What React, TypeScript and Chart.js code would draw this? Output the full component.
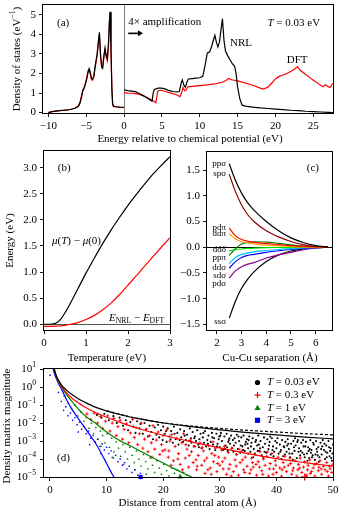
import React, { useEffect, useRef } from 'react';
import { Chart, registerables } from 'chart.js';
Chart.register(...registerables);

const FONT = '"Liberation Serif", "Times New Roman", Times, serif';
const PW = 340, PH = 510;
const RED = '#ff0000', GREEN = '#008000', BLUE = '#0000ff';

// ---------------- Panel (a): density of states ----------------
const dosLeftE = [-10,-9.5,-9,-8.5,-8,-7.5,-7,-6.5,-6.2,-6,-5.8,-5.6,-5.45,-5.3,-5.1,-4.9,-4.75,-4.6,-4.45,-4.3,-4.17,-4.0,-3.85,-3.7,-3.55,-3.4,-3.25,-3.1,-2.95,-2.82,-2.65,-2.51,-2.35,-2.2,-2.05,-1.95,-1.85,-1.72,-1.6,-1.5,-1.4,-1.0,-0.5,0];
const dosLeftNRL = [0,0.05,0.08,0.1,0.12,0.14,0.17,0.22,0.28,0.35,0.5,0.8,1.15,1.25,1.45,1.75,2.05,2.25,2.05,1.75,1.72,1.85,2.3,2.65,3.0,3.6,4.1,3.0,2.35,2.27,2.9,3.3,2.9,2.75,3.6,4.5,5.15,3.2,1.2,0.45,0.33,0.3,0.28,0.27];
const dosLeftDFT = [0,0.05,0.08,0.1,0.12,0.14,0.17,0.22,0.28,0.36,0.55,0.9,1.1,1.2,1.5,1.85,2.15,2.2,1.95,1.7,1.65,1.8,2.2,2.55,2.9,3.5,3.95,2.85,2.3,2.35,2.95,3.2,2.85,2.65,3.4,4.4,5.1,3.1,1.1,0.4,0.31,0.29,0.27,0.26];
const nrlRightE = [0,0.5,1,1.5,2,2.5,3,3.5,3.7,3.85,4.0,4.5,5,5.5,6,6.5,7,7.3,7.55,7.7,7.9,8.1,8.3,8.5,9,9.5,10,10.4,10.7,11.0,11.3,11.5,11.8,12.0,12.2,12.4,12.6,12.8,13.0,13.2,13.4,13.7,14.0,14.3,14.6,14.8,15.0,15.3,15.6,16,17,18,19,20,21,22,23,24,25,26,27,27.6];
const nrlRight = [1.16,1.12,1.1,1.07,0.98,0.88,0.76,0.63,0.58,1.0,1.18,1.25,1.25,1.2,1.12,1.08,1.06,1.08,1.5,1.67,1.4,1.3,1.55,1.72,1.74,1.76,1.78,1.85,2.4,3.05,3.1,3.3,3.7,3.95,3.6,3.35,3.6,4.2,4.8,3.7,3.15,2.9,2.7,2.5,2.38,2.0,1.3,0.7,0.38,0.33,0.28,0.24,0.21,0.18,0.15,0.12,0.1,0.07,0.05,0.03,0.01,0.0];
const dftRightE = [0,0.5,1,1.5,2,2.5,3,3.5,4.0,4.2,4.45,4.7,5,5.5,6,6.5,7,7.4,7.6,7.8,8.0,8.2,8.45,9,10,11,12,13,13.5,13.8,14.2,15,16,17,18,18.4,19,19.5,20,20.5,21,21.5,22,22.5,22.9,23.3,24,24.5,25,25.5,26,26.3,26.6,26.9,27.2,27.6];
const dftRight = [1.02,1.0,0.99,0.97,0.93,0.86,0.78,0.68,0.57,0.51,1.1,1.14,1.13,1.08,1.02,0.96,0.9,0.82,1.0,1.28,1.12,1.15,1.32,1.34,1.38,1.42,1.47,1.55,1.65,1.75,1.68,1.62,1.52,1.4,1.25,1.2,1.3,1.5,1.72,1.85,1.92,2.0,2.1,2.22,2.35,2.15,1.95,1.8,1.65,1.52,1.38,1.32,1.42,1.35,1.28,1.5];
const aTicksX = [-10,-5,0,5,10,15,20,25];
const aTicksY = [0,1,2,3,4,5];

// ---------------- Panel (b): energies vs temperature ----------------
const tempT = [0,0.1,0.2,0.3,0.4,0.5,0.6,0.8,1.0,1.2,1.4,1.6,1.8,2.0,2.2,2.4,2.6,2.8,3.0];
const muShift = [0,0,0.005,0.03,0.1,0.22,0.36,0.67,0.98,1.27,1.55,1.81,2.05,2.28,2.49,2.69,2.88,3.05,3.21];
const eDiff = [-0.04,-0.04,-0.04,-0.035,-0.03,-0.02,-0.005,0.03,0.09,0.17,0.28,0.41,0.57,0.75,0.93,1.12,1.3,1.48,1.66];
const bTicksX = [0,1,2,3];
const bTicksY = [0,0.5,1,1.5,2,2.5,3];

// ---------------- Panel (c): hopping integrals ----------------
const sepR = [2.5,2.75,3.0,3.25,3.5,4.0,4.5,5.0,5.5,6.0,6.5];
const ppSigma = [1.62,1.3,1.05,0.86,0.72,0.5,0.32,0.18,0.09,0.03,0];
const spSigma = [1.42,1.08,0.82,0.63,0.5,0.32,0.2,0.11,0.05,0.015,0];
const pdPi = [0.37,0.22,0.15,0.115,0.095,0.07,0.05,0.03,0.015,0.005,0];
const ddPi = [0.26,0.16,0.11,0.085,0.065,0.04,0.025,0.012,0.005,0.001,0];
const ddDelta = [-0.07,-0.05,-0.035,-0.025,-0.018,-0.01,-0.006,-0.003,-0.001,0,0];
const ppPi = [-0.16,-0.03,0.06,0.095,0.105,0.1,0.075,0.045,0.022,0.007,0];
const ddSigma = [-0.32,-0.2,-0.14,-0.11,-0.09,-0.065,-0.045,-0.03,-0.015,-0.005,0];
const sdSigma = [-0.41,-0.28,-0.2,-0.16,-0.14,-0.1,-0.07,-0.045,-0.025,-0.008,0];
const pdSigma = [-0.6,-0.46,-0.38,-0.33,-0.3,-0.21,-0.15,-0.1,-0.05,-0.015,0];
const ssSigma = [-1.38,-1.05,-0.8,-0.62,-0.48,-0.28,-0.15,-0.075,-0.035,-0.01,0];
const cNames = ['pp\u03C3','sp\u03C3','pd\u03C0','dd\u03C0','dd\u03B4','pp\u03C0','dd\u03C3','sd\u03C3','pd\u03C3','ss\u03C3'];
const cLabelY = [1.62,1.42,0.385,0.255,-0.055,-0.205,-0.39,-0.55,-0.715,-1.45];
const cTicksX = [2,3,4,5,6];
const cTicksY = [-1.5,-1,-0.5,0,0.5,1,1.5];

// ---------------- Panel (d): density matrix decay (log10 values) ----------------
const fitBlackX = [0.5,0.7,1,1.5,2,3,4,5,6,8,10,12,15,20,25,30,35,40,45,50];
const fitBlackL = [1.3,1.0,0.7,0.38,0.12,-0.2,-0.45,-0.65,-0.82,-1.12,-1.33,-1.5,-1.72,-2.0,-2.2,-2.38,-2.53,-2.66,-2.78,-2.88];
const fitBlackDashX = [10,15,20,25,30,35,40,45,50];
const fitBlackDashL = [-1.33,-1.72,-1.99,-2.17,-2.3,-2.41,-2.5,-2.59,-2.66];
const fitRedX = [0.5,0.7,1,1.5,2,3,4,5,6,8,10,12,15,20,25,30,35,40,45,50];
const fitRedL = [1.3,1.0,0.68,0.33,0.05,-0.35,-0.65,-0.88,-1.08,-1.42,-1.68,-1.92,-2.25,-2.68,-3.05,-3.38,-3.7,-3.98,-4.2,-4.4];
const fitGreenX = [0.6,0.8,1,1.5,2,3,4,5,6,8,10,12,15,18,20,22,25,27];
const fitGreenL = [1.3,1.0,0.75,0.3,0.0,-0.45,-0.85,-1.22,-1.55,-2.0,-2.5,-2.92,-3.4,-3.9,-4.22,-4.55,-5.0,-5.3];
const fitBlueX = [0.4,0.55,1,1.5,2,3,4,5,6,7,8,9,10,11,12];
const fitBlueL = [1.3,1.0,0.55,0.2,-0.1,-0.75,-1.3,-1.75,-2.2,-2.65,-3.1,-3.65,-4.25,-4.85,-5.4];

const ptsBlack: number[][] = [
[8.3,-1.55],[9.1,-1.7],[9.6,-1.5],[10.4,-1.85],[11.2,-1.62],[11.8,-2.0],
[12.3,-1.7],[12.9,-2.15],[13.4,-1.85],[13.8,-2.4],[14.2,-1.95],[14.7,-2.2],[15.1,-2.55],[15.4,-1.9],[15.8,-2.3],[16.0,-2.05],
[16.4,-2.6],[16.7,-2.0],[17.0,-2.35],[17.3,-2.75],[17.6,-2.15],[17.9,-2.5],[18.2,-2.9],[18.5,-2.25],[18.8,-2.65],[19.1,-2.1],[19.3,-2.8],[19.6,-2.4],[19.9,-2.95],[20.0,-2.2],
[20.3,-2.6],[20.6,-3.05],[20.8,-2.3],[21.1,-2.75],[21.4,-2.45],[21.7,-3.1],[21.9,-2.2],[22.2,-2.9],[22.5,-2.55],[22.7,-3.2],[23.0,-2.35],[23.2,-2.8],[23.5,-3.05],[23.7,-2.45],[24.0,-2.95],[24.2,-2.65],[24.5,-3.25],[24.7,-2.3],[24.9,-2.85],[25.0,-3.1],
[25.2,-2.5],[25.4,-3.3],[25.6,-2.75],[25.8,-3.0],[26.0,-2.4],[26.2,-3.2],[26.4,-2.9],[26.6,-2.6],[26.8,-3.4],[27.0,-2.8],[27.2,-3.1],[27.4,-2.45],[27.6,-3.3],[27.8,-2.95],[28.0,-2.7],[28.2,-3.45],[28.4,-3.05],[28.6,-2.55],[28.8,-3.2],[29.0,-2.85],[29.2,-3.5],[29.4,-2.6],[29.6,-3.15],[29.8,-2.9],[30.0,-3.35],
[30.2,-2.55],[30.4,-3.0],[30.6,-3.5],[30.8,-2.75],[31.0,-3.25],[31.2,-2.6],[31.4,-3.55],[31.6,-2.95],[31.8,-3.15],[32.0,-2.7],[32.2,-3.4],[32.4,-3.6],[32.6,-2.85],[32.8,-3.1],[33.0,-2.65],[33.2,-3.45],[33.4,-3.0],[33.6,-3.65],[33.8,-2.8],[34.0,-3.3],[34.2,-2.7],[34.4,-3.55],[34.6,-3.05],[34.8,-2.9],[35.0,-3.4],[31.3,-3.35],[32.9,-3.75],[34.5,-3.2],
[35.2,-2.75],[35.4,-3.6],[35.6,-3.1],[35.8,-2.85],[36.0,-3.45],[36.2,-3.7],[36.4,-2.95],[36.6,-3.25],[36.8,-2.7],[37.0,-3.55],[37.2,-3.0],[37.4,-3.8],[37.6,-3.35],[37.8,-2.8],[38.0,-3.15],[38.2,-3.65],[38.4,-2.9],[38.6,-3.45],[38.8,-3.05],[39.0,-3.75],[39.2,-2.85],[39.4,-3.3],[39.6,-3.6],[39.8,-3.0],[40.0,-3.4],[35.9,-3.9],[36.9,-3.2],[37.7,-3.95],[38.9,-2.75],[39.5,-3.85],
[40.2,-2.85],[40.4,-3.7],[40.6,-3.2],[40.8,-3.5],[41.0,-2.95],[41.2,-3.85],[41.4,-3.35],[41.6,-3.05],[41.8,-3.6],[42.0,-2.9],[42.2,-3.45],[42.4,-3.9],[42.6,-3.15],[42.8,-3.7],[43.0,-3.0],[43.2,-3.55],[43.4,-3.25],[43.6,-3.95],[43.8,-2.95],[44.0,-3.4],[44.2,-3.8],[44.4,-3.1],[44.6,-3.65],[44.8,-3.3],[45.0,-3.9],[40.9,-4.0],[41.9,-3.25],[42.9,-4.05],[43.9,-3.6],[44.7,-2.95],[41.5,-3.75],[43.3,-2.85],
[45.2,-3.05],[45.4,-3.7],[45.6,-3.35],[45.8,-3.95],[46.0,-2.95],[46.2,-3.5],[46.4,-3.8],[46.6,-3.2],[46.8,-4.05],[47.0,-3.0],[47.2,-3.6],[47.4,-3.35],[47.6,-3.9],[47.8,-3.1],[48.0,-3.75],[48.2,-2.95],[48.4,-3.5],[48.6,-4.0],[48.8,-3.25],[49.0,-3.65],[49.2,-3.0],[49.4,-3.85],[49.6,-3.4],[49.8,-4.1],[50.0,-3.2],[45.5,-4.1],[46.5,-3.1],[47.5,-4.15],[48.5,-3.15],[49.5,-3.55],[45.9,-3.45],[46.9,-3.75],[47.9,-3.45],[48.9,-3.9],[49.9,-3.7],
[20.5,-2.45],[21.3,-2.9],[22.0,-2.6],[22.9,-2.95],[23.8,-2.7],[24.6,-3.0],[25.5,-2.85],[26.3,-3.35],[27.1,-2.55],[27.9,-3.15],[28.7,-2.8],[29.5,-3.3],[30.1,-2.7],[30.9,-3.45],[31.7,-2.85],[32.5,-3.25],[33.3,-2.75],[34.1,-3.5],[34.9,-3.15],[35.5,-3.3],[36.3,-3.05],[37.1,-3.4],[37.9,-3.6],[38.7,-3.25],[39.3,-3.5],[40.1,-3.1],[40.7,-3.6],[41.3,-3.3],[42.3,-3.7],[43.1,-3.35],[43.7,-3.05],[44.3,-3.55],[45.1,-3.3],[45.7,-3.55],[46.3,-3.9],[47.3,-3.8],[48.1,-3.3],[48.7,-3.6],[49.3,-3.35],[49.7,-3.95],[46.1,-3.65],[47.1,-3.45],[44.9,-3.75],[42.1,-3.15],[36.7,-3.55],[35.1,-2.95],[33.7,-3.25],[32.3,-2.95],[31.5,-3.05],[29.9,-2.75]
];
const ptsRed: number[][] = [
[6.5,-1.5],[7.2,-1.8],[7.8,-1.45],[8.4,-2.0],[8.9,-1.65],[9.3,-2.3],[9.8,-1.9],
[10.2,-1.6],[10.6,-2.45],[11.0,-2.0],[11.3,-1.75],[11.7,-2.7],[12.0,-2.2],[12.4,-1.85],[12.8,-2.9],[13.1,-2.35],[13.5,-2.05],[13.9,-3.1],[14.2,-2.55],[14.6,-1.8],[14.9,-2.8],
[15.2,-2.25],[15.5,-3.2],[15.8,-2.6],[16.1,-2.0],[16.4,-3.4],[16.7,-2.9],[17.0,-2.35],[17.3,-3.6],[17.6,-2.7],[17.9,-3.1],[18.2,-2.15],[18.5,-3.45],[18.8,-2.95],[19.1,-2.5],[19.4,-3.75],[19.7,-3.2],[20.0,-2.7],
[20.3,-3.5],[20.6,-2.4],[20.9,-3.9],[21.2,-3.0],[21.5,-2.65],[21.8,-4.1],[22.1,-3.3],[22.4,-2.85],[22.7,-3.7],[23.0,-4.3],[23.3,-3.1],[23.6,-2.6],[23.9,-3.95],[24.2,-3.45],[24.5,-4.45],[24.8,-2.95],[25.0,-3.6],[21.0,-3.55],[22.6,-4.0],[24.0,-3.2],
[25.3,-4.2],[25.6,-3.3],[25.9,-4.6],[26.2,-3.8],[26.5,-3.1],[26.8,-4.35],[27.1,-3.55],[27.4,-4.8],[27.7,-3.95],[28.0,-3.25],[28.3,-4.5],[28.6,-3.7],[28.9,-4.15],[29.2,-3.4],[29.5,-4.7],[29.8,-3.9],[30.0,-4.35],[25.8,-4.05],[26.9,-3.35],[27.9,-4.6],[28.8,-3.05],[29.6,-4.25],
[30.3,-3.5],[30.6,-4.55],[30.9,-3.95],[31.2,-4.85],[31.5,-3.65],[31.8,-4.3],[32.1,-3.4],[32.4,-4.7],[32.7,-4.05],[33.0,-3.75],[33.3,-4.9],[33.6,-4.2],[33.9,-3.55],[34.2,-4.6],[34.5,-3.9],[34.8,-4.4],[35.0,-3.7],[30.8,-3.3],[32.0,-4.95],[33.4,-3.45],[34.4,-4.75],
[35.3,-4.8],[35.6,-3.95],[35.9,-4.45],[36.2,-3.75],[36.5,-4.9],[36.8,-4.15],[37.1,-3.6],[37.4,-4.65],[37.7,-4.0],[38.0,-4.35],[38.3,-3.85],[38.6,-4.95],[38.9,-4.25],[39.2,-3.7],[39.5,-4.55],[39.8,-4.1],[40.0,-4.75],[35.8,-4.2],[37.0,-4.45],[38.4,-3.6],[39.4,-4.85],
[40.3,-3.9],[40.6,-4.5],[40.9,-4.95],[41.2,-4.2],[41.5,-3.85],[41.8,-4.7],[42.1,-4.35],[42.4,-3.95],[42.7,-4.85],[43.0,-4.5],[43.3,-4.1],[43.6,-4.95],[43.9,-4.3],[44.2,-3.95],[44.5,-4.75],[44.8,-4.45],[45.0,-4.15],[41.0,-4.6],[42.5,-4.25],[43.8,-4.6],
[45.3,-4.9],[45.6,-4.35],[45.9,-4.05],[46.2,-4.7],[46.5,-4.5],[46.8,-4.95],[47.1,-4.25],[47.4,-4.65],[47.7,-4.1],[48.0,-4.85],[48.3,-4.4],[48.6,-4.6],[48.9,-4.2],[49.2,-4.95],[49.5,-4.55],[49.8,-4.75],[50.0,-4.3],[46.0,-4.8],[47.5,-4.45],[49.0,-4.7],
[26.0,-4.4],[27.3,-4.1],[28.5,-4.85],[29.1,-3.8],[30.5,-4.15],[31.6,-4.55],[32.9,-4.4],[34.0,-4.05],[35.5,-4.6],[36.4,-4.3],[37.6,-4.85],[38.8,-4.55],[39.9,-4.35],[41.4,-4.45],[42.9,-4.65],[44.1,-4.5],[45.5,-4.6],[46.7,-4.3],[47.9,-4.55],[49.4,-4.4],[18.0,-3.9],[19.9,-3.55],[21.4,-4.35],[23.4,-4.6],[24.6,-3.8]
];
const ptsGreen: number[][] = [
[2.5,-0.5],[3.2,-0.9],[3.8,-1.2],[4.4,-1.0],[4.9,-1.6],[5.5,-1.4],[6.0,-1.9],[6.4,-1.7],[6.9,-2.3],[7.3,-2.0],[7.7,-2.6],[8.1,-2.25],[8.5,-2.9],[8.9,-2.45],[9.3,-2.7],[9.7,-3.1],[10.1,-2.6],[10.5,-3.35],[10.9,-2.85],[11.3,-3.6],[11.7,-3.05],[12.1,-3.4],[12.5,-3.85],[12.9,-3.2],[13.3,-3.6],[13.7,-4.0],[14.1,-3.35],[14.5,-3.8],[14.9,-4.2],[15.3,-3.55],[15.7,-4.0],[16.1,-4.4],[16.5,-3.75],[16.9,-4.15],[17.3,-4.55],[17.7,-3.95],[18.1,-4.35],[18.5,-4.75],[18.9,-4.1],[19.3,-4.5],[19.7,-4.85],[20.1,-4.3],[20.6,-4.65],[21.0,-4.95],[21.5,-4.5],[22.0,-4.8],[22.5,-4.6],[23.0,-4.95],[23.6,-4.75],[24.2,-4.9],[9.0,-3.3],[11.0,-3.9],[13.0,-4.3],[15.0,-4.6],[17.0,-4.85]
];
const ptsBlue: number[][] = [
[0,0.65],[1.5,-0.3],[2.0,-0.8],[2.4,-1.3],[2.8,-1.1],[3.2,-1.6],[3.6,-1.45],[4.0,-1.85],[4.4,-1.7],[4.8,-2.1],[5.2,-1.95],[5.6,-2.35],[6.0,-2.2],[6.4,-2.6],[6.8,-2.45],[7.2,-2.85],[7.6,-2.7],[8.0,-3.05],[8.4,-2.9],[8.8,-3.3],[9.2,-3.15],[9.6,-3.5],[10.0,-3.35],[10.4,-3.7],[10.8,-3.55],[11.2,-3.95],[11.6,-3.8],[12.0,-4.15],[12.4,-4.0],[12.8,-4.35],[13.2,-4.2],[13.6,-4.55],[14.0,-4.4],[14.5,-4.75],[15.0,-4.6],[15.5,-4.9],[16.0,-4.8],[5.0,-2.5],[7.0,-3.2],[9.0,-3.7]
];
// decay-length markers at the plot edge: [x, log10 y]
const markBlack = [50.8, -3.5];
const markRed = [45, -5];
const markGreen = [23, -5];
const markBlue = [16, -5];
const dTicksX = [0,10,20,30,40,50];
const dTicksExp = [1,0,-1,-2,-3,-4,-5];

// ---------------- helpers ----------------
type Seg = { t: string; it?: boolean; sub?: boolean; sup?: boolean };
const segFont = (s: Seg, size: number) => `${s.it ? 'italic ' : ''}${(s.sub || s.sup) ? size * 0.7 : size}px ${FONT}`;
function richWidth(ctx: CanvasRenderingContext2D, segs: Seg[], size: number) {
  let w = 0;
  for (const s of segs) { ctx.font = segFont(s, size); w += ctx.measureText(s.t).width; }
  return w;
}
function drawRich(ctx: CanvasRenderingContext2D, x: number, y: number, segs: Seg[], size = 11, align: 'left' | 'center' | 'right' = 'left', color = '#000') {
  const w = richWidth(ctx, segs, size);
  let cx = align === 'left' ? x : align === 'center' ? x - w / 2 : x - w;
  ctx.save();
  ctx.fillStyle = color; ctx.textBaseline = 'middle'; ctx.textAlign = 'left';
  for (const s of segs) {
    ctx.font = segFont(s, size);
    const dy = s.sub ? size * 0.3 : s.sup ? -size * 0.38 : 0;
    ctx.fillText(s.t, cx, y + dy);
    cx += ctx.measureText(s.t).width;
  }
  ctx.restore();
}
function drawRotated(ctx: CanvasRenderingContext2D, x: number, y: number, segs: Seg[], size = 11) {
  ctx.save(); ctx.translate(x, y); ctx.rotate(-Math.PI / 2);
  drawRich(ctx, 0, 0, segs, size, 'center');
  ctx.restore();
}
const T = (t: string): Seg[] => [{ t }];
const minus = (v: number, d?: number) => { const s = d === undefined ? String(Math.abs(v)) : Math.abs(v).toFixed(d); return v < 0 ? '\u2212' + s : s; };

function frame(chart: any) {
  const { ctx, chartArea: a } = chart;
  ctx.save(); ctx.strokeStyle = '#000'; ctx.lineWidth = 1;
  ctx.strokeRect(Math.round(a.left) - 0.5, Math.round(a.top) - 0.5, Math.round(a.right - a.left) + 1, Math.round(a.bottom - a.top) + 1);
  ctx.restore();
}
const zeroPad = (s: any) => { s.paddingLeft = 0; s.paddingRight = 0; s.paddingTop = 0; s.paddingBottom = 0; };
const gridOpts = { display: true, drawOnChartArea: false, drawTicks: true, tickLength: 4, color: '#000', lineWidth: 0.9 };
function xAxis(min: number, max: number, ticks: number[], fmt: (v: number) => string) {
  return {
    type: 'linear', position: 'bottom', min, max,
    grid: gridOpts, border: { display: false },
    ticks: { autoSkip: false, maxRotation: 0, minRotation: 0, padding: 3, color: '#000', font: { family: FONT, size: 11 }, callback: (v: any) => fmt(Number(v)) },
    afterBuildTicks: (s: any) => { s.ticks = ticks.map((value) => ({ value })); },
    afterFit: (s: any) => { s.height = 20; zeroPad(s); },
  };
}
function yAxis(min: number, max: number, ticks: number[], fmt: (v: number) => string, width: number, type = 'linear') {
  return {
    type, position: 'left', min, max,
    grid: gridOpts, border: { display: false },
    ticks: { autoSkip: false, padding: 3, color: '#000', font: { family: FONT, size: 11 }, callback: (v: any) => fmt(Number(v)) },
    afterBuildTicks: (s: any) => { s.ticks = ticks.map((value) => ({ value })); },
    afterFit: (s: any) => { s.width = width; zeroPad(s); },
  };
}
function baseOpts(area: { L: number; T: number; R: number; B: number }, xs: any, ys: any) {
  return {
    animation: false, responsive: false, maintainAspectRatio: false, devicePixelRatio: 1, events: [],
    layout: { autoPadding: false, padding: { left: 0, top: area.T, right: PW - area.R, bottom: PH - area.B - 20 } },
    plugins: { legend: { display: false }, tooltip: { enabled: false }, title: { display: false } },
    scales: { x: xs, y: ys },
  };
}
const xy = (xs: number[], ys: number[]) => xs.map((x, i) => ({ x, y: ys[i] }));
const xyLog = (xs: number[], ls: number[]) => xs.map((x, i) => ({ x, y: Math.pow(10, ls[i]) }));
const ptsLog = (p: number[][]) => p.map(([x, l]) => ({ x, y: Math.pow(10, l) }));
function lineDS(data: any[], color: string, extra: any = {}) {
  return { data, borderColor: color, backgroundColor: color, borderWidth: 1.2, pointRadius: 0, fill: false, tension: 0, ...extra };
}
const smooth = { cubicInterpolationMode: 'monotone' };

// ---------------- chart builders ----------------
function makeA(cv: HTMLCanvasElement) {
  const area = { L: 43, T: 5, R: 333, B: 113 };
  const plugin = {
    id: 'annA',
    beforeDatasetsDraw(chart: any) {
      const { ctx, chartArea: a, scales: { x } } = chart;
      const px = Math.round(x.getPixelForValue(0)) + 0.5;
      ctx.save(); ctx.strokeStyle = '#808080'; ctx.lineWidth = 1;
      ctx.beginPath(); ctx.moveTo(px, a.top); ctx.lineTo(px, a.bottom); ctx.stroke(); ctx.restore();
    },
    afterDraw(chart: any) {
      const { ctx, chartArea: a, scales: { x, y } } = chart;
      frame(chart);
      drawRich(ctx, x.getPixelForValue(-8.85), y.getPixelForValue(4.58), T('(a)'));
      drawRich(ctx, x.getPixelForValue(0.55), y.getPixelForValue(4.63), T('4\u00D7 amplification'));
      const ay = y.getPixelForValue(4.05), ax0 = x.getPixelForValue(0.55), ax1 = x.getPixelForValue(2.5);
      ctx.save(); ctx.strokeStyle = '#000'; ctx.fillStyle = '#000'; ctx.lineWidth = 1.6;
      ctx.beginPath(); ctx.moveTo(ax0, ay); ctx.lineTo(ax1 - 4, ay); ctx.stroke();
      ctx.beginPath(); ctx.moveTo(ax1, ay); ctx.lineTo(ax1 - 5, ay - 3); ctx.lineTo(ax1 - 5, ay + 3); ctx.closePath(); ctx.fill();
      ctx.restore();
      drawRich(ctx, x.getPixelForValue(25.9), y.getPixelForValue(4.58), [{ t: 'T', it: true }, { t: ' = 0.03 eV' }], 11, 'right');
      drawRich(ctx, x.getPixelForValue(14.0), y.getPixelForValue(3.56), T('NRL'));
      drawRich(ctx, x.getPixelForValue(21.5), y.getPixelForValue(2.69), T('DFT'));
      drawRich(ctx, 190, 139, T('Energy relative to chemical potential (eV)'), 11, 'center');
      drawRotated(ctx, 17, (a.top + a.bottom) / 2, [{ t: 'Density of states (eV' }, { t: '\u22121', sup: true }, { t: ')' }]);
    },
  };
  return new Chart(cv, {
    type: 'line',
    data: {
      datasets: [
        lineDS(xy(dosLeftE, dosLeftNRL), '#000'),
        lineDS(xy(dosLeftE, dosLeftDFT), RED),
        lineDS(xy(nrlRightE, nrlRight), '#000'),
        lineDS(xy(dftRightE, dftRight), RED),
      ],
    },
    options: baseOpts(area, xAxis(-10.7, 27.6, aTicksX, (v) => minus(v)), yAxis(-0.02, 5.5, aTicksY, (v) => String(v), area.L)) as any,
    plugins: [plugin],
  });
}

function makeB(cv: HTMLCanvasElement) {
  const area = { L: 44, T: 151, R: 170, B: 330 };
  const plugin = {
    id: 'annB',
    beforeDatasetsDraw(chart: any) {
      const { ctx, chartArea: a, scales: { y } } = chart;
      const py = Math.round(y.getPixelForValue(0)) + 0.5;
      ctx.save(); ctx.strokeStyle = '#555'; ctx.lineWidth = 1;
      ctx.beginPath(); ctx.moveTo(a.left, py); ctx.lineTo(a.right, py); ctx.stroke(); ctx.restore();
    },
    afterDraw(chart: any) {
      const { ctx, chartArea: a, scales: { x, y } } = chart;
      frame(chart);
      drawRich(ctx, x.getPixelForValue(0.33), y.getPixelForValue(3.0), T('(b)'));
      drawRich(ctx, x.getPixelForValue(0.19), y.getPixelForValue(1.6), [{ t: '\u03BC', it: true }, { t: '(' }, { t: 'T', it: true }, { t: ') \u2212 ' }, { t: '\u03BC', it: true }, { t: '(0)' }]);
      drawRich(ctx, x.getPixelForValue(1.55), y.getPixelForValue(0.12), [{ t: 'E', it: true }, { t: 'NRL', sub: true }, { t: ' \u2212 ' }, { t: 'E', it: true }, { t: 'DFT', sub: true }]);
      drawRich(ctx, (a.left + a.right) / 2, 358, T('Temperature (eV)'), 11, 'center');
      drawRotated(ctx, 10, (a.top + a.bottom) / 2, T('Energy (eV)'));
    },
  };
  return new Chart(cv, {
    type: 'line',
    data: { datasets: [lineDS(xy(tempT, muShift), '#000', smooth), lineDS(xy(tempT, eDiff), RED, smooth)] },
    options: baseOpts(area, xAxis(0, 3, bTicksX, (v) => String(v)), yAxis(-0.11, 3.32, bTicksY, (v) => v.toFixed(1), area.L)) as any,
    plugins: [plugin],
  });
}

function makeC(cv: HTMLCanvasElement) {
  const area = { L: 207, T: 152, R: 332, B: 330 };
  const plugin = {
    id: 'annC',
    beforeDatasetsDraw(chart: any) {
      const { ctx, chartArea: a, scales: { y } } = chart;
      const py = Math.round(y.getPixelForValue(0)) + 0.5;
      ctx.save(); ctx.strokeStyle = '#000'; ctx.lineWidth = 1;
      ctx.beginPath(); ctx.moveTo(a.left, py); ctx.lineTo(a.right, py); ctx.stroke(); ctx.restore();
    },
    afterDraw(chart: any) {
      const { ctx, chartArea: a, scales: { x, y } } = chart;
      frame(chart);
      drawRich(ctx, x.getPixelForValue(5.64), y.getPixelForValue(1.54), T('(c)'));
      cNames.forEach((n, i) => drawRich(ctx, x.getPixelForValue(2.37), y.getPixelForValue(cLabelY[i]), T(n), 9, 'right'));
      drawRich(ctx, (a.left + a.right) / 2 + 0.5, 358, T('Cu-Cu separation (\u00C5)'), 11, 'center');
    },
  };
  const curves: [number[], string][] = [
    [ppSigma, '#000'], [spSigma, '#8b0000'], [pdPi, RED], [ddPi, '#ffa500'], [ddDelta, '#00e000'],
    [ppPi, GREEN], [ddSigma, '#00bfff'], [sdSigma, BLUE], [pdSigma, '#8b008b'], [ssSigma, '#000'],
  ];
  return new Chart(cv, {
    type: 'line',
    data: { datasets: curves.map(([v, c]) => lineDS(xy(sepR, v), c, smooth)) },
    options: baseOpts(area, xAxis(1.6, 6.66, cTicksX, (v) => String(v)), yAxis(-1.61, 1.85, cTicksY, (v) => minus(v, 1), area.L)) as any,
    plugins: [plugin],
  });
}

function makeD(cv: HTMLCanvasElement) {
  const area = { L: 44, T: 369, R: 333, B: 477 };
  const legendRows: [string, string][] = [['circle', '#000'], ['cross', RED], ['triangle', GREEN], ['rect', BLUE]];
  const legendText = ['0.03', '0.3', '1', '3'];
  const plugin = {
    id: 'annD',
    afterDraw(chart: any) {
      const { ctx, chartArea: a, scales: { x, y } } = chart;
      frame(chart);
      dTicksExp.forEach((e) => {
        drawRich(ctx, a.left - 8, y.getPixelForValue(Math.pow(10, e)), [{ t: '10' }, { t: e < 0 ? '\u2212' + (-e) : String(e), sup: true }], 11, 'right');
      });
      drawRich(ctx, x.getPixelForValue(1.24), y.getPixelForValue(Math.pow(10, -3.97)), T('(d)'));
      legendRows.forEach(([shape, color], i) => {
        const my = 382.5 + i * 12.6, mx = 257.5;
        ctx.save(); ctx.fillStyle = color; ctx.strokeStyle = color; ctx.lineWidth = 1.2;
        if (shape === 'circle') { ctx.beginPath(); ctx.arc(mx, my, 2.6, 0, Math.PI * 2); ctx.fill(); }
        else if (shape === 'cross') { ctx.beginPath(); ctx.moveTo(mx - 3, my); ctx.lineTo(mx + 3, my); ctx.moveTo(mx, my - 3); ctx.lineTo(mx, my + 3); ctx.stroke(); }
        else if (shape === 'triangle') { ctx.beginPath(); ctx.moveTo(mx, my - 3); ctx.lineTo(mx + 3, my + 2.4); ctx.lineTo(mx - 3, my + 2.4); ctx.closePath(); ctx.fill(); }
        else { ctx.fillRect(mx - 2.6, my - 2.6, 5.2, 5.2); }
        ctx.restore();
        drawRich(ctx, 267, my, [{ t: 'T', it: true }, { t: ' = ' + legendText[i] + ' eV' }]);
      });
      drawRich(ctx, (a.left + a.right) / 2 - 1, 503, T('Distance from central atom (\u00C5)'), 11, 'center');
      drawRotated(ctx, 7, 426, T('Density matrix magnitude'));
    },
  };
  const mark = (m: number[], style: string, color: string, r: number) => ({
    data: [{ x: m[0], y: Math.pow(10, m[1]) }], showLine: false, clip: false, pointStyle: style, pointRadius: r,
    backgroundColor: color, borderColor: color, borderWidth: style === 'cross' ? 1.3 : 0,
  });
  const scat = (p: number[][], style: string, color: string, r: number, bw: number) => ({
    data: ptsLog(p), showLine: false, pointStyle: style, pointRadius: r, backgroundColor: color, borderColor: color, borderWidth: bw,
  });
  return new Chart(cv, {
    type: 'line',
    data: {
      datasets: [
        mark(markBlack, 'circle', '#000', 2.8),
        mark(markRed, 'cross', RED, 3.5),
        mark(markGreen, 'triangle', GREEN, 3.2),
        mark(markBlue, 'rect', BLUE, 3),
        lineDS(xyLog(fitBlackX, fitBlackL), '#000', smooth),
        lineDS(xyLog(fitBlackDashX, fitBlackDashL), '#000', { ...smooth, borderDash: [3, 2] }),
        lineDS(xyLog(fitRedX, fitRedL), RED, smooth),
        lineDS(xyLog(fitGreenX, fitGreenL), GREEN, smooth),
        lineDS(xyLog(fitBlueX, fitBlueL), BLUE, smooth),
        scat(ptsBlue, 'rect', BLUE, 1, 0),
        scat(ptsGreen, 'triangle', GREEN, 1.3, 0),
        scat(ptsRed, 'cross', RED, 1.6, 0.9),
        scat(ptsBlack, 'circle', '#000', 1.05, 0),
      ],
    },
    options: baseOpts(area, xAxis(-1.06, 50, dTicksX, (v) => String(v)),
      yAxis(1e-5, 10, dTicksExp.map((e) => Math.pow(10, e)), () => '', area.L, 'logarithmic')) as any,
    plugins: [plugin],
  });
}

export default function App() {
  const ra = useRef<HTMLCanvasElement>(null);
  const rb = useRef<HTMLCanvasElement>(null);
  const rc = useRef<HTMLCanvasElement>(null);
  const rd = useRef<HTMLCanvasElement>(null);
  useEffect(() => {
    const charts = [makeA(ra.current!), makeB(rb.current!), makeC(rc.current!), makeD(rd.current!)];
    return () => charts.forEach((c) => c.destroy());
  }, []);
  const st: React.CSSProperties = { position: 'absolute', left: 0, top: 0, width: PW, height: PH };
  return (
    <div style={{ position: 'absolute', left: 0, top: 0, width: PW, height: PH, background: '#fff' }}>
      <canvas ref={ra} width={PW} height={PH} style={st} />
      <canvas ref={rb} width={PW} height={PH} style={st} />
      <canvas ref={rc} width={PW} height={PH} style={st} />
      <canvas ref={rd} width={PW} height={PH} style={st} />
    </div>
  );
}
